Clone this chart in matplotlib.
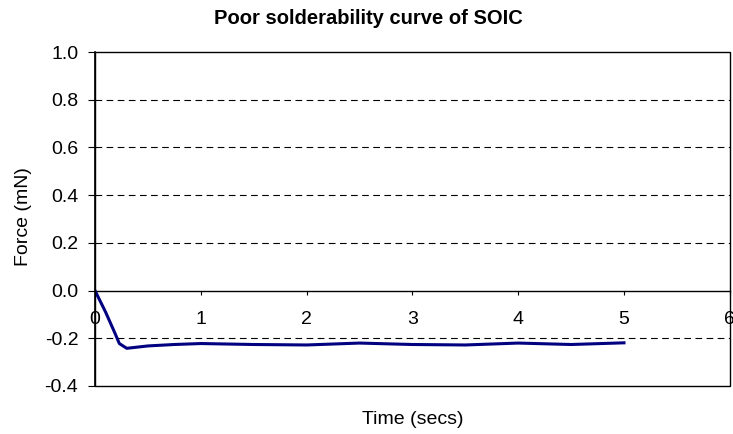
import matplotlib.pyplot as plt
from matplotlib.patches import Rectangle

plt.rcParams['font.family'] = ['Liberation Sans', 'DejaVu Sans']

time_s = [0, 0.1, 0.19, 0.23, 0.3, 0.5, 0.75, 1.0, 1.5, 2.0, 2.5, 3.0, 3.5, 4.0, 4.5, 5.0]
force_mn = [0, -0.09, -0.18, -0.222, -0.242, -0.232, -0.226, -0.222, -0.226, -0.228, -0.22, -0.226, -0.228, -0.22, -0.226, -0.219]

xticks = [0, 1, 2, 3, 4, 5, 6]
yticks = [-0.4, -0.2, 0.0, 0.2, 0.4, 0.6, 0.8, 1.0]

fig = plt.figure(figsize=(7.33, 4.34), dpi=100)
ax = fig.add_axes([0.1296, 0.1106, 0.866, 0.7694])

for y in [-0.2, 0.2, 0.4, 0.6, 0.8]:
    ax.axhline(y, color='black', lw=0.8, dashes=(6, 4), zorder=1)

ax.plot(time_s, force_mn, color='#000080', lw=2.2, zorder=3)

ax.set_xlim(0, 6)
ax.set_ylim(-0.4, 1.0)
ax.set_xticks(xticks)
ax.set_yticks(yticks)
ax.set_yticklabels(['%.1f' % v for v in yticks])

ax.spines['bottom'].set_position(('data', 0))
for s in ['top', 'right']:
    ax.spines[s].set_visible(False)
ax.spines['left'].set_linewidth(1.2)
ax.spines['bottom'].set_linewidth(1.0)
ax.add_patch(Rectangle((0, 0), 1, 1, transform=ax.transAxes, fill=False,
                       edgecolor='black', lw=1.0, clip_on=False, zorder=4))

ax.tick_params(axis='x', direction='out', length=3, pad=12, labelsize=14)
ax.tick_params(axis='y', direction='out', length=5, pad=7, labelsize=14)

fig.text(0.503, 1 - 18 / 434, 'Poor solderability curve of SOIC', fontsize=14.5,
         fontweight='bold', ha='center', va='center')
fig.text(24 / 733, 0.5, 'Force (mN)', fontsize=14, rotation=90, ha='center', va='center')
fig.text(413 / 733, 1 - 420 / 434, 'Time (secs)', fontsize=14, ha='center', va='center')

fig.savefig('out.png', dpi=100)
